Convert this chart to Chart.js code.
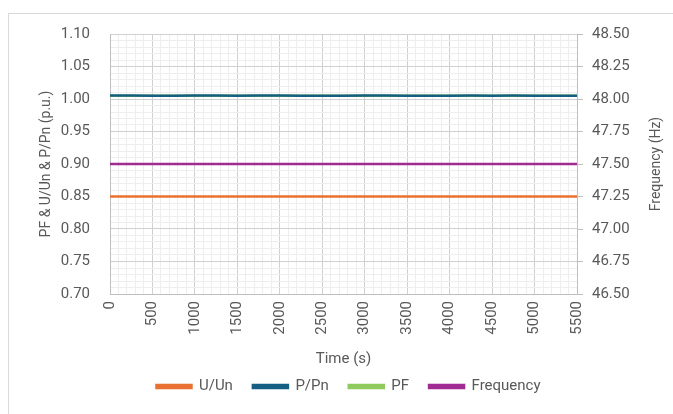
<!DOCTYPE html>
<html>
<head>
<meta charset="UTF-8">
<title>Time series</title>
<style>
	body { margin: 0; background: #fff; }
	.frame {
		position: absolute; left: 8px; top: 13px; width: 700px; height: 420px;
		border: 1px solid #d9d9d9; box-sizing: border-box;
	}
	.container { position: absolute; left: 0; top: 0; width: 673px; height: 414px; }
</style>
<script src="https://cdn.jsdelivr.net/npm/chart.js@4.4.1/dist/chart.umd.min.js"></script>
</head>
<body>
<div class="frame"></div>
<div class="container"><canvas id="myChart" width="673" height="414"></canvas></div>
<script>
// time samples (s)
var times = [0, 250, 500, 750, 1000, 1250, 1500, 1750, 2000, 2250, 2500, 2750, 3000, 3250, 3500, 3750, 4000, 4250, 4500, 4750, 5000, 5250, 5500];
// series values
var uUn  = [0.85, 0.85, 0.85, 0.85, 0.85, 0.85, 0.85, 0.85, 0.85, 0.85, 0.85, 0.85, 0.85, 0.85, 0.85, 0.85, 0.85, 0.85, 0.85, 0.85, 0.85, 0.85, 0.85];
var pPn  = [1.0052, 1.0054, 1.0051, 1.0049, 1.0052, 1.0053, 1.0051, 1.0052, 1.0054, 1.0051, 1.0049, 1.0051, 1.0053, 1.0052, 1.0051, 1.0049, 1.0051, 1.0053, 1.0051, 1.0052, 1.0049, 1.0051, 1.0050];
var pf   = [1.005, 1.005, 1.005, 1.005, 1.005, 1.005, 1.005, 1.005, 1.005, 1.005, 1.005, 1.005, 1.005, 1.005, 1.005, 1.005, 1.005, 1.005, 1.005, 1.005, 1.005, 1.005, 1.005];
var freq = [47.5, 47.5, 47.5, 47.5, 47.5, 47.5, 47.5, 47.5, 47.5, 47.5, 47.5, 47.5, 47.5, 47.5, 47.5, 47.5, 47.5, 47.5, 47.5, 47.5, 47.5, 47.5, 47.5];

var seriesNames = ['U/Un', 'P/Pn', 'PF', 'Frequency'];
var colors = ['#E97132', '#156082', '#8FCB5C', '#A02B93'];

function pts(vals) {
	return vals.map(function(v, i) { return { x: times[i], y: v }; });
}

var txt = '#595959';
Chart.defaults.font.family = 'Roboto, "Liberation Sans", sans-serif';
Chart.defaults.color = txt;

// right axis title reads bottom-to-top like the left one
var rightTitle = {
	id: 'rightTitle',
	afterDraw: function(chart) {
		var c = chart.ctx, s = chart.scales.y2, a = chart.chartArea;
		c.save();
		c.translate(s.right - 7, (a.top + a.bottom) / 2);
		c.rotate(-Math.PI / 2);
		c.textAlign = 'center';
		c.textBaseline = 'middle';
		c.fillStyle = txt;
		c.font = '14px Roboto, "Liberation Sans", sans-serif';
		c.fillText('Frequency (Hz)', 0, 0);
		c.restore();
	}
};

var ctx = document.getElementById('myChart').getContext('2d');
var myChart = new Chart(ctx, {
	type: 'line',
	data: {
		datasets: [
			{ label: seriesNames[0], data: pts(uUn), yAxisID: 'y', order: 3 },
			{ label: seriesNames[1], data: pts(pPn), yAxisID: 'y', order: 1 },
			{ label: seriesNames[2], data: pts(pf), yAxisID: 'y', order: 4 },
			{ label: seriesNames[3], data: pts(freq), yAxisID: 'y2', order: 2 }
		].map(function(d, i) {
			d.borderColor = colors[i];
			d.backgroundColor = colors[i];
			d.borderWidth = 2.5;
			d.pointRadius = 0;
			d.tension = 0;
			return d;
		})
	},
	plugins: [rightTitle],
	options: {
		responsive: false,
		animation: false,
		layout: { padding: { left: 34, right: 10, top: 34, bottom: 10 } },
		plugins: {
			legend: {
				position: 'bottom',
				labels: {
					boxWidth: 35, boxHeight: 3, padding: 20,
					font: { size: 15 }, color: txt,
					sort: function(a, b) { return a.datasetIndex - b.datasetIndex; }
				}
			},
			tooltip: { enabled: false }
		},
		scales: {
			x: {
				type: 'linear', min: 0, max: 5500,
				ticks: {
					stepSize: 100, autoSkip: false, maxRotation: 90, minRotation: 90,
					font: { size: 15 }, color: txt, padding: 7,
					callback: function(v) { return v % 500 === 0 ? String(v) : ''; }
				},
				grid: {
					drawTicks: false,
					color: function(c) { return c.tick && c.tick.value % 500 === 0 ? '#d0d0d0' : '#eeeeee'; }
				},
				border: { color: '#bfbfbf' },
				title: { display: true, text: 'Time (s)', font: { size: 15 }, color: txt, padding: { top: 10, bottom: -9 } },
				afterFit: function(s) { s.height = 65; }
			},
			y: {
				position: 'left', min: 0.7, max: 1.1,
				ticks: {
					stepSize: 0.01, autoSkip: false, font: { size: 15 }, color: txt, padding: 20,
					callback: function(v) { var r = Math.round(v * 100); return r % 5 === 0 ? (r / 100).toFixed(2) : ''; }
				},
				grid: {
					drawTicks: false,
					color: function(c) { return c.tick && Math.round(c.tick.value * 100) % 5 === 0 ? '#d0d0d0' : '#eeeeee'; }
				},
				border: { color: '#bfbfbf' },
				title: { display: true, text: 'PF & U/Un & P/Pn (p.u.)', font: { size: 14 }, color: txt },
				afterFit: function(s) { s.width = 76; }
			},
			y2: {
				position: 'right', min: 46.5, max: 48.5,
				ticks: {
					stepSize: 0.25, font: { size: 15 }, color: txt, padding: 9,
					callback: function(v) { return v.toFixed(2); }
				},
				grid: { drawOnChartArea: false, tickLength: 6, color: '#bfbfbf' },
				border: { color: '#bfbfbf' },
				title: { display: false },
				afterFit: function(s) { s.width = 86; }
			}
		}
	}
});
</script>
</body>
</html>
